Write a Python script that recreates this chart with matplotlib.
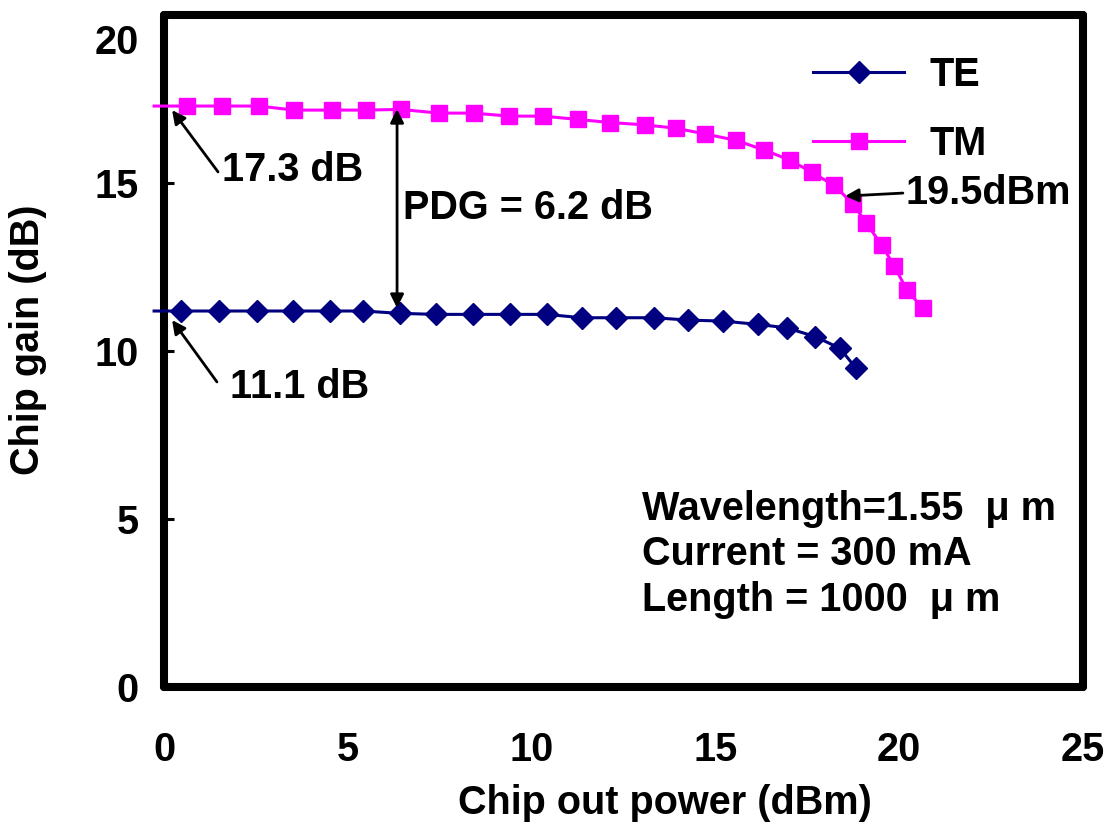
import matplotlib
matplotlib.use("Agg")
import matplotlib.pyplot as plt
from matplotlib.transforms import ScaledTranslation

plt.rcParams['font.family'] = ['Liberation Sans', 'DejaVu Sans']
plt.rcParams['font.weight'] = 'bold'

# Data (first entry: start of the drawn line, no marker)
te_x = [-0.27, 0.45, 1.50, 2.52, 3.50, 4.52, 5.42, 6.42, 7.40, 8.41, 9.41, 10.41, 11.36,
        12.30, 13.33, 14.26, 15.21, 16.17, 16.94, 17.71, 18.39, 18.82]
te_y = [11.19, 11.19, 11.19, 11.19, 11.19, 11.19, 11.19, 11.12, 11.09, 11.09, 11.09, 11.09,
        10.99, 10.99, 10.99, 10.92, 10.89, 10.79, 10.69, 10.43, 10.08, 9.49]
tm_x = [-0.27, 0.63, 1.57, 2.58, 3.54, 4.56, 5.49, 6.44, 7.48, 8.43, 9.39, 10.32, 11.27,
        12.13, 13.08, 13.93, 14.72, 15.56, 16.33, 17.03, 17.62, 18.23, 18.75, 19.10,
        19.52, 19.87, 20.20, 20.64]
tm_y = [17.29, 17.29, 17.29, 17.29, 17.17, 17.17, 17.17, 17.19, 17.08, 17.08, 16.99, 16.99,
        16.89, 16.80, 16.73, 16.63, 16.46, 16.27, 15.98, 15.68, 15.32, 14.93, 14.37,
        13.81, 13.16, 12.52, 11.83, 11.27]
x_ticks = [0, 5, 10, 15, 20, 25]
y_ticks = [0, 5, 10, 15, 20]

FS = 28.5
fig = plt.figure(figsize=(11.13, 8.25), dpi=100)
ax = fig.add_axes([164/1113, 1 - 687/825, (1083-164)/1113, (687-15)/825])

ax.plot(te_x, te_y, color='#000080', lw=2.2, marker='D', ms=11.5, markevery=slice(1, None),
        label='TE', clip_on=False, zorder=3)
ax.plot(tm_x, tm_y, color='#FF00FF', lw=2.2, marker='s', ms=11, markevery=slice(1, None),
        label='TM', clip_on=False, zorder=3)

ax.set_xlim(0, 25)
ax.set_ylim(0, 20)
ax.set_xticks(x_ticks)
ax.set_yticks(y_ticks)
ax.tick_params(axis='y', direction='in', length=7, width=2.2, pad=18, labelsize=FS)
ax.tick_params(axis='x', length=0, pad=32, labelsize=FS)
for lab in ax.get_xticklabels() + ax.get_yticklabels():
    lab.set_fontweight('bold')
top_lab = ax.get_yticklabels()[-1]
top_lab.set_transform(top_lab.get_transform() + ScaledTranslation(0, -0.24, fig.dpi_scale_trans))
for s in ax.spines.values():
    s.set_linewidth(5.8)
    s.set_capstyle('round')
    s.set_joinstyle('round')

ax.set_xlabel('Chip out power (dBm)', fontsize=FS, fontweight='bold')
ax.set_ylabel('Chip gain (dB)', fontsize=FS, fontweight='bold')
ax.xaxis.set_label_coords(0.545, -0.145)
ax.yaxis.set_label_coords(-0.127, 0.516)

arrow = dict(arrowstyle='-|>', lw=2.0, color='black', mutation_scale=20, shrinkA=0, shrinkB=0)
ax.annotate('', xy=(0.22, 17.17), xytext=(1.47, 15.33), arrowprops=arrow)
ax.text(1.58, 15.39, '17.3 dB', fontsize=FS, fontweight='bold', va='center', ha='left')
ax.annotate('', xy=(0.22, 10.92), xytext=(1.44, 9.08), arrowprops=arrow)
ax.text(1.80, 8.93, '11.1 dB', fontsize=FS, fontweight='bold', va='center', ha='left')
ax.annotate('', xy=(18.53, 14.61), xytext=(20.10, 14.70), arrowprops=arrow)
ax.text(20.16, 14.70, '19.5dBm', fontsize=FS, fontweight='bold', va='center', ha='left')
darrow = dict(arrowstyle='<|-|>', lw=2.0, color='black', mutation_scale=20, shrinkA=0, shrinkB=0)
ax.annotate('', xy=(6.34, 17.20), xytext=(6.34, 11.28), arrowprops=darrow)
ax.text(6.50, 14.26, 'PDG = 6.2 dB', fontsize=FS, fontweight='bold', va='center', ha='left')

ax.text(13.0, 5.30, 'Wavelength=1.55  \u03bc m', fontsize=FS, fontweight='bold', va='center', ha='left')
ax.text(13.0, 3.95, 'Current = 300 mA', fontsize=FS, fontweight='bold', va='center', ha='left')
ax.text(13.0, 2.60, 'Length = 1000  \u03bc m', fontsize=FS, fontweight='bold', va='center', ha='left')

leg = ax.legend(loc='upper left', bbox_to_anchor=((813-164)/919, (687-56)/672), frameon=False,
                borderaxespad=0, borderpad=0, handlelength=2.3, handletextpad=0.65,
                labelspacing=0.78, prop={'size': FS, 'weight': 'bold'})

fig.savefig('out.png', dpi=100)
